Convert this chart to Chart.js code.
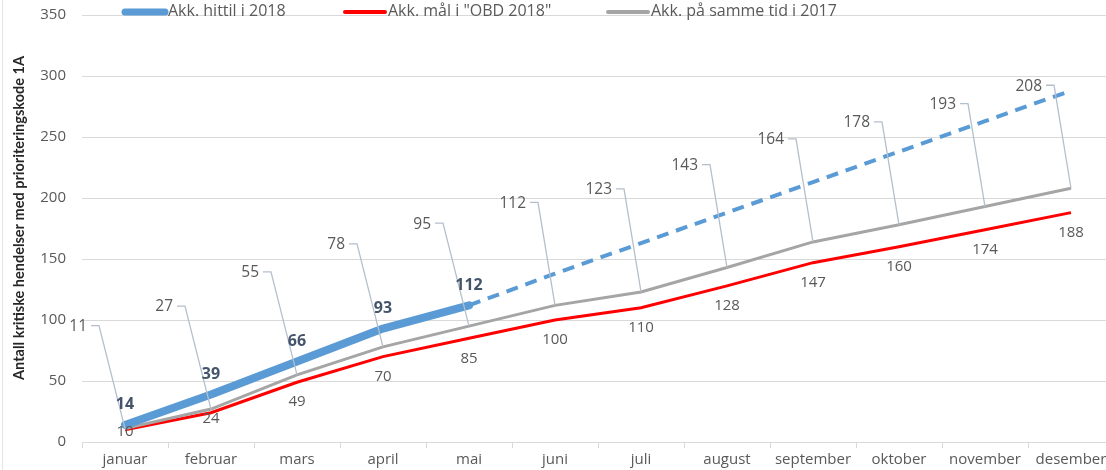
<!DOCTYPE html>
<html>
<head>
<meta charset="utf-8">
<script src="https://cdn.jsdelivr.net/npm/chart.js@4.4.1/dist/chart.umd.min.js"></script>
<style>
  body { margin: 0; overflow: hidden; background: #fff; }
  #wrap { position: relative; width: 1116px; height: 470px; }
  #wrap:before { content: ""; position: absolute; left: 2px; top: 0; bottom: 0; border-left: 1px solid #e4e4e4; }
</style>
</head>
<body>
<div id="wrap"><canvas id="myChart" width="1116" height="470"></canvas></div>
<script>
const months = ["januar", "februar", "mars", "april", "mai", "juni", "juli", "august", "september", "oktober", "november", "desember"];

// akkumulert hittil i 2018 (faktisk) og fremskrevet
const hittil2018 = [14, 39, 66, 93, 112, null, null, null, null, null, null, null];
const prognose2018 = [null, null, null, null, 112, 138, 163, 188, 213, 238, 263, 288];
// mål i OBD 2018
const maal2018 = [10, 24, 49, 70, 85, 100, 110, 128, 147, 160, 174, 188];
// samme tid i fjor
const fjor2017 = [11, 27, 55, 78, 95, 112, 123, 143, 164, 178, 193, 208];

const legendItems = [
  { text: "Akk. hittil i 2018", color: "#5B9BD5", width: 7, x: 123 },
  { text: 'Akk. mål i "OBD 2018"', color: "#FF0000", width: 4, x: 343 },
  { text: "Akk. på samme tid i 2017", color: "#A5A5A5", width: 4, x: 606 },
];

const labelPlugin = {
  id: "labelPlugin",
  afterDatasetsDraw(chart) {
    const ctx = chart.ctx;
    const blue = chart.getDatasetMeta(0).data;
    const red = chart.getDatasetMeta(2).data;
    const gray = chart.getDatasetMeta(3).data;
    ctx.save();
    ctx.textBaseline = "middle";

    // callouts for 2017
    ctx.strokeStyle = "#B4BFCC";
    ctx.lineWidth = 1.3;
    ctx.font = "15.5px 'Open Sans'";
    ctx.fillStyle = "#595959";
    ctx.textAlign = "right";
    gray.forEach((p, i) => {
      const top = p.y - 103;
      const slant = i < 5 ? 26 : 17;
      ctx.beginPath();
      ctx.moveTo(p.x, p.y);
      ctx.lineTo(p.x - slant, top);
      ctx.lineTo(p.x - slant - 8, top);
      ctx.stroke();
      ctx.fillText(fjor2017[i], p.x - slant - 12, top + 1);
    });

    // red labels under points
    ctx.textAlign = "center";
    ctx.font = "15px 'Open Sans'";
    const redOff = [2, 6, 20, 20, 20, 20, 20, 20, 20, 20, 20, 20];
    red.forEach((p, i) => {
      ctx.fillText(maal2018[i], p.x, p.y + redOff[i]);
    });

    // blue labels above points
    ctx.font = "bold 16px 'Open Sans'";
    ctx.fillStyle = "#44546A";
    blue.forEach((p, i) => {
      if (hittil2018[i] == null) return;
      ctx.fillText(hittil2018[i], p.x, p.y - 20);
    });
    ctx.restore();
  },
  afterDraw(chart) {
    const ctx = chart.ctx;
    ctx.save();
    // legend
    ctx.font = "16px 'Open Sans'";
    ctx.textBaseline = "middle";
    ctx.textAlign = "left";
    legendItems.forEach((it) => {
      ctx.strokeStyle = it.color;
      ctx.lineWidth = it.width;
      ctx.lineCap = "round";
      ctx.beginPath();
      ctx.moveTo(it.x + 2, 12);
      ctx.lineTo(it.x + 42, 12);
      ctx.stroke();
      ctx.fillStyle = "#595959";
      ctx.fillText(it.text, it.x + 45, 11);
    });
    // y axis title
    ctx.translate(19, 218);
    ctx.rotate(-Math.PI / 2);
    ctx.textAlign = "center";
    ctx.font = "bold 14.5px Lato";
    ctx.fillStyle = "#262626";
    ctx.fillText("Antall kritiske hendelser med prioriteringskode 1A", 0, 0);
    ctx.restore();
  },
};

var myChart = new Chart("myChart", {
  type: "line",
  data: {
    labels: months,
    datasets: [
      {
        label: "Akk. hittil i 2018",
        data: hittil2018,
        borderColor: "#5B9BD5",
        borderWidth: 8,
        borderCapStyle: "round",
        borderJoinStyle: "round",
        pointRadius: 0,
        order: 1,
      },
      {
        label: "prognose",
        data: prognose2018,
        borderColor: "#5B9BD5",
        borderWidth: 4,
        borderDash: [12, 8],
        pointRadius: 0,
        order: 1,
      },
      {
        label: 'Akk. mål i "OBD 2018"',
        data: maal2018,
        borderColor: "#FF0000",
        borderWidth: 3,
        pointRadius: 0,
        order: 3,
      },
      {
        label: "Akk. på samme tid i 2017",
        data: fjor2017,
        borderColor: "#A5A5A5",
        borderWidth: 3,
        pointRadius: 0,
        order: 2,
      },
    ],
  },
  options: {
    responsive: false,
    animation: false,
    layout: { padding: { top: 15, right: 2, left: 0, bottom: 0 } },
    plugins: {
      legend: { display: false },
      tooltip: { enabled: false },
    },
    scales: {
      x: {
        offset: true,
        grid: { drawOnChartArea: false, drawTicks: true, tickLength: 6, color: "#D9D9D9", offset: true },
        border: { color: "#D9D9D9" },
        ticks: { color: "#595959", font: { family: "Open Sans", size: 15 }, padding: 3, maxRotation: 0, autoSkip: false },
        afterFit(scale) { scale.height = 28; },
      },
      y: {
        min: 0,
        max: 350,
        grid: { color: "#D9D9D9", drawTicks: false },
        border: { display: false },
        ticks: { stepSize: 50, color: "#595959", font: { family: "Open Sans", size: 15 }, padding: 16 },
        afterFit(scale) {
          scale.width = 82;
          scale.paddingTop = 0;
          scale.paddingBottom = 0;
        },
      },
    },
  },
  plugins: [labelPlugin],
});
</script>
</body>
</html>
